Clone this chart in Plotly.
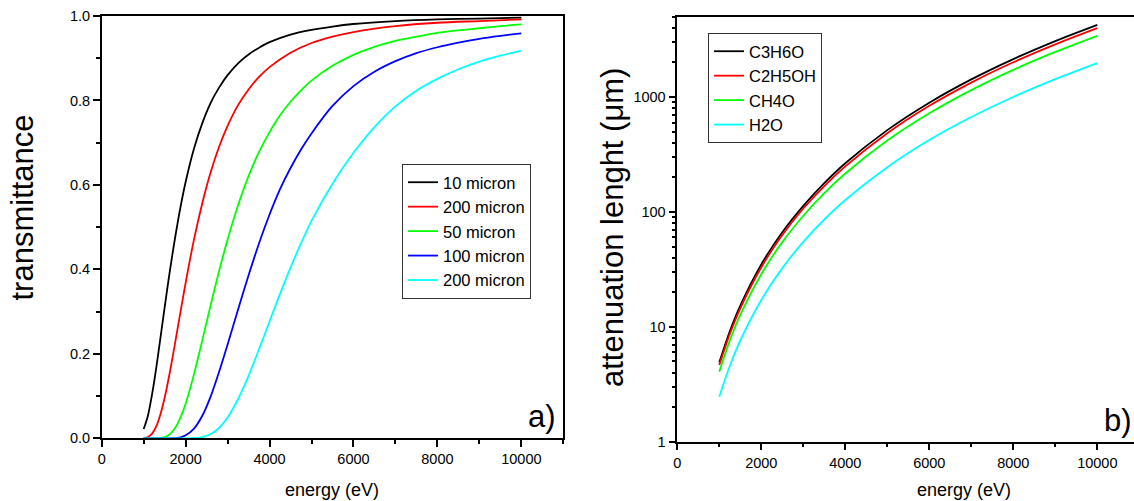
import plotly.graph_objects as go

W, H = 1134, 501

# ---------------- Panel a) : transmittance vs energy (values read off the figure) ----------------
names_a = ["10 micron", "200 micron", "50 micron", "100 micron", "200 micron"]
colors_a = ["#000000", "#FF0000", "#00FF00", "#0000FF", "#00FFFF"]

E_10 = [1000, 1100, 1200, 1300, 1400, 1500, 1600, 1700, 1800, 1900, 2000, 2200, 2400, 2600, 2800,
        3000, 3250, 3500, 3750, 4000, 4500, 5000, 5500, 6000, 7000, 8000, 9000, 10000]
T_10 = [0.022, 0.053, 0.104, 0.167, 0.238, 0.310, 0.380, 0.445, 0.505, 0.559, 0.607, 0.686, 0.747,
        0.795, 0.831, 0.860, 0.888, 0.909, 0.925, 0.938, 0.956, 0.967, 0.975, 0.981, 0.988, 0.992,
        0.994, 0.996]

E_20 = [1000, 1100, 1200, 1300, 1400, 1500, 1600, 1700, 1800, 1900, 2000, 2200, 2400, 2600, 2800,
        3000, 3250, 3500, 3750, 4000, 4500, 5000, 5500, 6000, 7000, 8000, 9000, 10000]
T_20 = [0.001, 0.003, 0.011, 0.028, 0.057, 0.096, 0.144, 0.198, 0.255, 0.312, 0.368, 0.471, 0.558,
        0.631, 0.691, 0.740, 0.789, 0.826, 0.856, 0.879, 0.913, 0.936, 0.951, 0.962, 0.976, 0.984,
        0.988, 0.992]

E_50 = [1000, 1300, 1500, 1600, 1700, 1800, 1900, 2000, 2200, 2400, 2600, 2800, 3000, 3250, 3500,
        3750, 4000, 4250, 4500, 4750, 5000, 5500, 6000, 6500, 7000, 7500, 8000, 8500, 9000, 9500, 10000]
T_50 = [0.0, 0.0, 0.003, 0.008, 0.018, 0.033, 0.055, 0.082, 0.152, 0.233, 0.317, 0.397, 0.471, 0.552,
        0.621, 0.678, 0.725, 0.765, 0.797, 0.824, 0.847, 0.882, 0.908, 0.927, 0.941, 0.951, 0.960,
        0.966, 0.971, 0.976, 0.980]

E_100 = [1000, 1500, 1800, 1900, 2000, 2200, 2400, 2600, 2800, 3000, 3250, 3500, 3750, 4000, 4250,
         4500, 4750, 5000, 5500, 6000, 6500, 7000, 7500, 8000, 8500, 9000, 9500, 10000]
T_100 = [0.0, 0.0, 0.001, 0.003, 0.007, 0.023, 0.054, 0.100, 0.158, 0.222, 0.305, 0.386, 0.462, 0.530,
         0.590, 0.640, 0.684, 0.722, 0.787, 0.834, 0.868, 0.893, 0.912, 0.926, 0.937, 0.946, 0.953,
         0.959]

E_200 = [1000, 2000, 2200, 2400, 2600, 2800, 3000, 3250, 3500, 3750, 4000, 4250, 4500, 4750, 5000,
         5500, 6000, 6500, 7000, 7500, 8000, 8500, 9000, 9500, 10000]
T_200 = [0.0, 0.0, 0.001, 0.003, 0.010, 0.025, 0.049, 0.093, 0.148, 0.211, 0.277, 0.342, 0.404, 0.462,
         0.515, 0.603, 0.676, 0.737, 0.786, 0.823, 0.851, 0.874, 0.892, 0.906, 0.918]

series_a = [(E_10, T_10), (E_20, T_20), (E_50, T_50), (E_100, T_100), (E_200, T_200)]

# ---------------- Panel b) : attenuation length vs energy (values read off the figure) ----------------
names_b = ["C3H6O", "C2H5OH", "CH4O", "H2O"]
colors_b = ["#000000", "#FF0000", "#00FF00", "#00FFFF"]
energy_b = [1000, 1250, 1500, 2000, 2500, 3000, 3500, 4000, 5000, 6000, 7000, 8000, 9000, 10000]
L_C3H6O = [4.90, 9.15, 15.3, 34.9, 66.6, 113, 178, 265, 515, 892, 1423, 2139, 3068, 4246]
L_C2H5OH = [4.65, 8.67, 14.5, 33.0, 62.9, 107, 168, 249, 484, 838, 1335, 2005, 2874, 3974]
L_CH4O = [4.07, 7.58, 12.7, 28.7, 54.6, 92.6, 146, 216, 418, 722, 1149, 1723, 2468, 3410]
L_H2O = [2.46, 4.56, 7.60, 17.1, 32.4, 54.9, 85.9, 127, 245, 422, 669, 1001, 1430, 1972]
series_b = [L_C3H6O, L_C2H5OH, L_CH4O, L_H2O]

FONT = "Liberation Sans, Arial, Helvetica, sans-serif"

fig = go.Figure()
for (E, T), nm, c in zip(series_a, names_a, colors_a):
    fig.add_trace(go.Scatter(x=E, y=T, mode="lines", name=nm,
                             line=dict(color=c, width=1.8, shape="spline", smoothing=0.8),
                             xaxis="x", yaxis="y", legend="legend", hoverinfo="skip"))
for L, nm, c in zip(series_b, names_b, colors_b):
    fig.add_trace(go.Scatter(x=energy_b, y=L, mode="lines", name=nm,
                             line=dict(color=c, width=1.8, shape="spline", smoothing=0.8),
                             xaxis="x2", yaxis="y2", legend="legend2", hoverinfo="skip"))


def px_x(p):
    return p / W


def px_y(p):
    return (H - p) / H


axis_common = dict(showline=True, linecolor="black", linewidth=1.5, ticks="outside",
                   ticklen=7, tickwidth=1.5, tickcolor="black", showgrid=False,
                   zeroline=False, automargin=False, tickfont=dict(size=14.5, color="black"))

minor_x = dict(dtick=1000, ticks="outside", ticklen=4, tickwidth=1.5, tickcolor="black", showgrid=False)

log_minor = []
for dec in [1, 10, 100, 1000]:
    for k in range(2, 10):
        v = dec * k
        if v <= 5000:
            log_minor.append(v)

fig.update_layout(
    width=W, height=H,
    margin=dict(l=0, r=0, t=0, b=0, pad=0, autoexpand=False),
    paper_bgcolor="white", plot_bgcolor="white",
    font=dict(family=FONT, color="black", size=14),
    showlegend=True,
    xaxis=dict(domain=[px_x(101.7), px_x(563.3)], range=[0, 11000], dtick=2000, tick0=0,
               tickformat="d", mirror=True, anchor="y", minor=minor_x, **axis_common),
    yaxis=dict(domain=[px_y(438.3), px_y(16)], range=[0, 1.0], dtick=0.2, tick0=0,
               tickformat=".1f", mirror=True, anchor="x",
               minor=dict(dtick=0.1, ticks="outside", ticklen=4, tickwidth=1.5,
                          tickcolor="black", showgrid=False), **axis_common),
    xaxis2=dict(domain=[px_x(677.3), 1.0], range=[0, (W - 677.3) / 0.042], dtick=2000, tick0=0,
                tickformat="d", mirror=True, anchor="y2", minor=minor_x, **axis_common),
    yaxis2=dict(domain=[px_y(441.7), px_y(16.7)], type="log", range=[0, 3.699],
                tickmode="array", tickvals=[1, 10, 100, 1000], ticktext=["1", "10", "100", "1000"],
                mirror=False, anchor="x2",
                minor=dict(tickmode="array", tickvals=log_minor, ticks="outside", ticklen=4,
                           tickwidth=1.5, tickcolor="black", showgrid=False), **axis_common),
    legend=dict(x=px_x(402), y=px_y(164), xanchor="left", yanchor="top",
                bordercolor="#333333", borderwidth=1, bgcolor="white",
                font=dict(size=16.5, color="black"), tracegroupgap=0, itemwidth=30,
                entrywidth=100, entrywidthmode="pixels"),
    legend2=dict(x=px_x(708), y=px_y(33), xanchor="left", yanchor="top",
                 bordercolor="#333333", borderwidth=1, bgcolor="white",
                 font=dict(size=16.5, color="black"), tracegroupgap=0, itemwidth=30,
                 entrywidth=78, entrywidthmode="pixels"),
    annotations=[
        dict(text="transmittance", x=px_x(22), y=px_y(207.5), xref="paper", yref="paper",
             textangle=-90, showarrow=False, xanchor="center", yanchor="middle",
             font=dict(size=31)),
        dict(text="attenuation lenght (\u03bcm)", x=px_x(612), y=px_y(228), xref="paper", yref="paper",
             textangle=-90, showarrow=False, xanchor="center", yanchor="middle",
             font=dict(size=31)),
        dict(text="energy (eV)", x=px_x(332), y=px_y(490), xref="paper", yref="paper",
             showarrow=False, xanchor="center", yanchor="middle", font=dict(size=18)),
        dict(text="energy (eV)", x=px_x(964), y=px_y(490), xref="paper", yref="paper",
             showarrow=False, xanchor="center", yanchor="middle", font=dict(size=18)),
        dict(text="a)", x=px_x(541.7), y=px_y(416.7), xref="paper", yref="paper",
             showarrow=False, xanchor="center", yanchor="middle", font=dict(size=31)),
        dict(text="b)", x=px_x(1118), y=px_y(420), xref="paper", yref="paper",
             showarrow=False, xanchor="center", yanchor="middle", font=dict(size=31)),
    ],
)

fig.write_html("out.html", config={"displayModeBar": False},
               post_script="document.body.style.margin='0';document.body.style.padding='0';")
